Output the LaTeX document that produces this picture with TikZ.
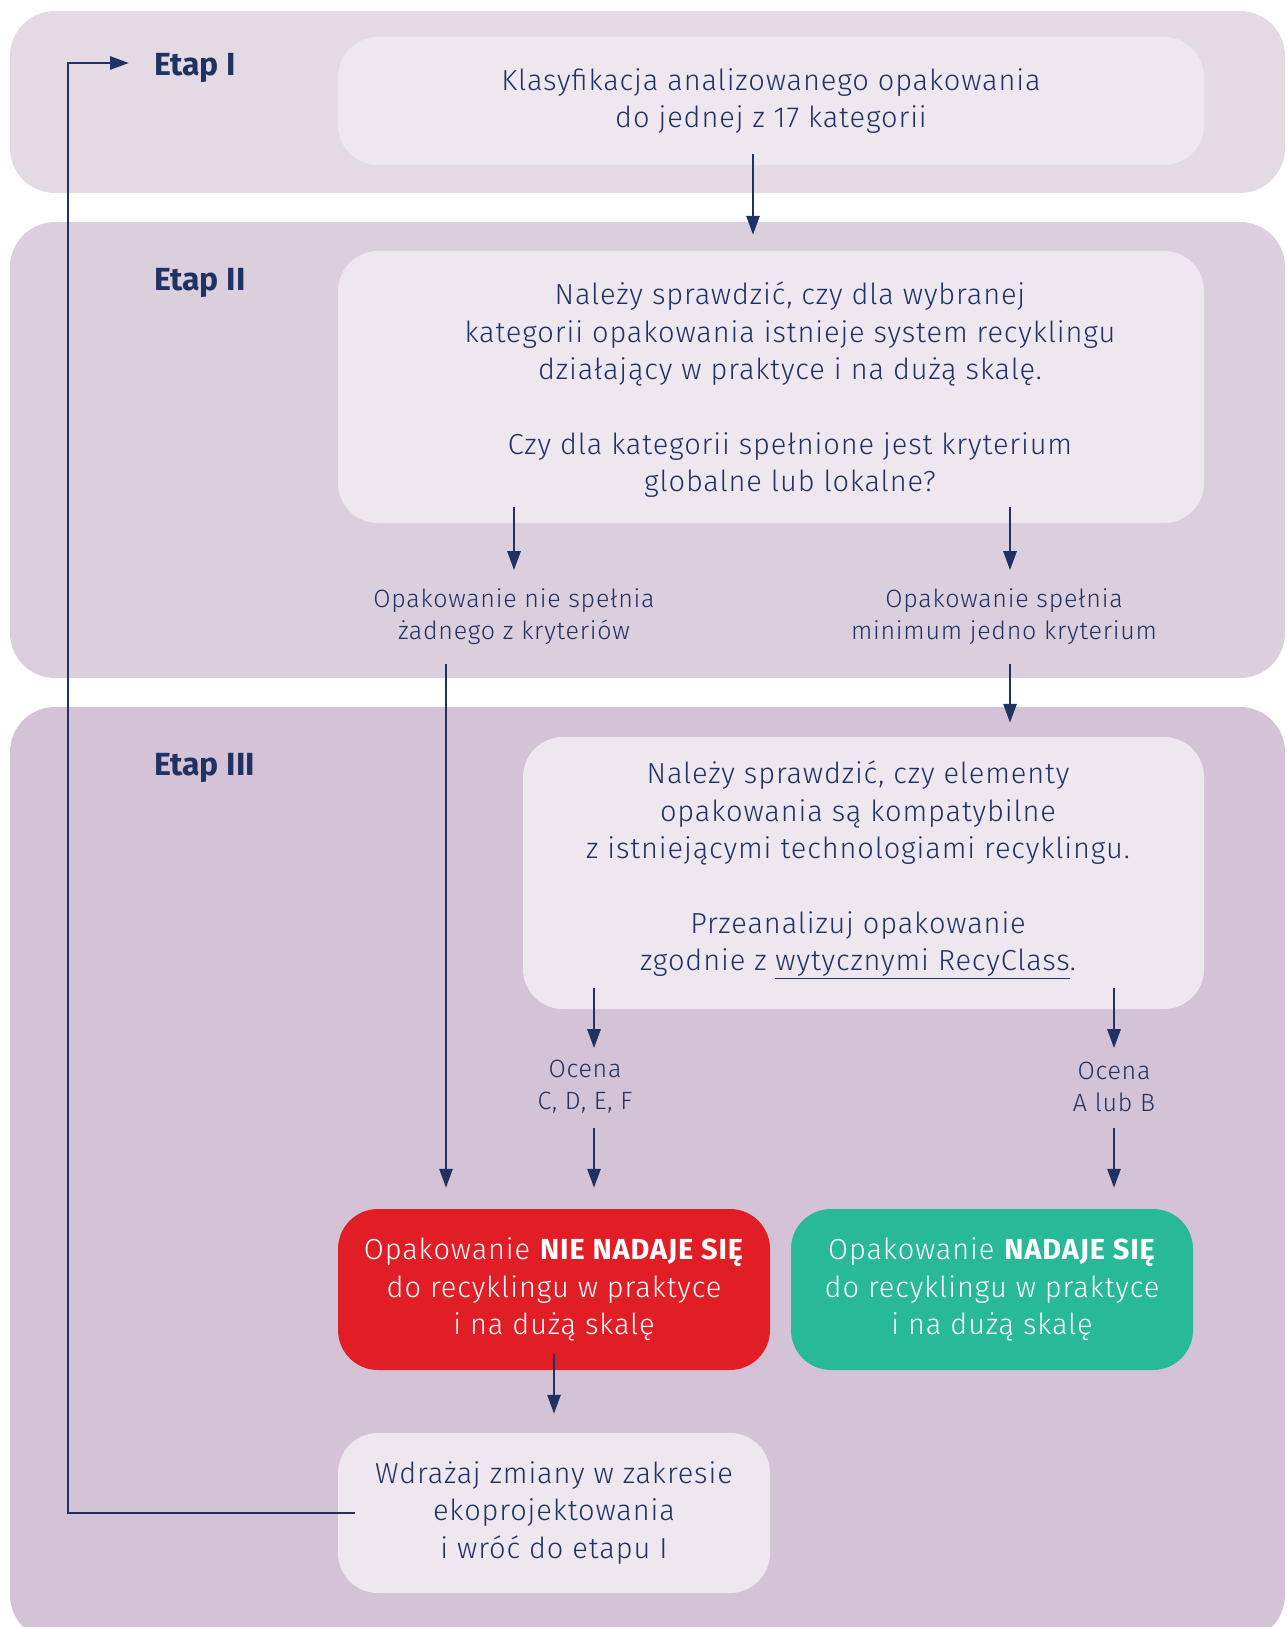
\documentclass[tikz,border=0pt]{standalone}
\usepackage{fontspec}
\setmainfont{Fira Sans Light}[BoldFont={Fira Sans Bold}, LetterSpace=3]
\newfontfamily\stagefont{Fira Sans Bold}
\usetikzlibrary{arrows.meta}
\definecolor{navy}{HTML}{1F3262}
\definecolor{bandA}{HTML}{E4DAE4}
\definecolor{bandB}{HTML}{DBCEDD}
\definecolor{bandC}{HTML}{D4C3D6}
\definecolor{boxc}{HTML}{EFE7EF}
\definecolor{redc}{HTML}{E11E26}
\definecolor{greenc}{HTML}{27B998}
\begin{document}
\begin{tikzpicture}[x=1pt,y=-1pt,
  bandshape/.style={rounded corners=45pt},
  box/.style={fill=boxc, rounded corners=40pt, align=center, text=navy,
    font=\fontsize{29}{37.4}\selectfont, inner sep=0pt},
  colbox/.style={rounded corners=40pt, align=center, text=white,
    font=\fontsize{29}{37.4}\selectfont, inner sep=0pt},
  lbl/.style={align=center, text=navy, font=\fontsize{25}{32}\selectfont, inner sep=0pt},
  stage/.style={anchor=west, text=navy, font=\fontsize{32}{36}\stagefont, inner sep=0pt},
  arr/.style={draw=navy, line width=2.8pt, -{Triangle[length=19pt,width=13pt]}},
  ln/.style={draw=navy, line width=2.8pt}
]
\useasboundingbox (0,0) rectangle (1287,1627);
% bands
\fill[bandA, bandshape] (10,11) rectangle (1285,193);
\fill[bandB, bandshape] (10,222) rectangle (1285,678);
\fill[bandC, bandshape] (10,707) rectangle (1285,1640);

% stage labels
\node[stage] (e1) at (154,68) {Etap I};
\node[stage] (e2) at (154,283) {Etap II};
\node[stage] (e3) at (154,768) {Etap III};

% boxes
\node[box, minimum width=866pt, minimum height=128pt] (b1) at (771,101)
  {Klasyfikacja analizowanego opakowania\\do jednej z 17 kategorii};
\node[box, minimum width=866pt, minimum height=272pt] (b2) at (771,387) {};
\node[box] (t2) at (790,390)
  {Należy sprawdzić, czy dla wybranej\\kategorii opakowania istnieje system recyklingu\\działający w praktyce i na dużą skalę.\\[37.4pt]Czy dla kategorii spełnione jest kryterium\\globalne lub lokalne?};
\node[box, minimum width=681pt, minimum height=272pt] (b3) at (863.5,873) {};
\node[box] (t3) at (858,870)
  {Należy sprawdzić, czy elementy\\opakowania są kompatybilne\\z istniejącymi technologiami recyklingu.\\[37.4pt]Przeanalizuj opakowanie\\zgodnie z \underline{wytycznymi RecyClass}.};
\node[colbox, fill=redc, minimum width=432pt, minimum height=161pt] (red) at (554,1289.5)
  {Opakowanie \textbf{NIE NADAJE SIĘ}\\do recyklingu w praktyce\\i na dużą skalę};
\node[colbox, fill=greenc, minimum width=402pt, minimum height=161pt] (green) at (992,1289.5)
  {Opakowanie \textbf{NADAJE SIĘ}\\do recyklingu w praktyce\\i na dużą skalę};
\node[box, minimum width=432pt, minimum height=160pt] (b6) at (554,1513)
  {Wdrażaj zmiany w zakresie\\ekoprojektowania\\i wróć do etapu I};

% labels
\node[lbl] (l1) at (514,617) {Opakowanie nie spełnia\\żadnego z kryteriów};
\node[lbl] (l2) at (1004,617) {Opakowanie spełnia\\minimum jedno kryterium};
\node[lbl] (o1) at (585,1087) {Ocena\\C, D, E, F};
\node[lbl] (o2) at (1114,1087) {Ocena\\A lub B};

% arrows
\draw[arr] ([xshift=-18pt,yshift=11pt]b1.south) -- ([xshift=-18pt,yshift=16pt]b2.north);
\draw[arr] ([xshift=-257pt,yshift=16pt]b2.south) -- ([xshift=-257pt,yshift=-47pt]b2.south);
\draw[arr] ([xshift=239pt,yshift=16pt]b2.south) -- ([xshift=239pt,yshift=-47pt]b2.south);
\draw[arr] ([xshift=-325pt,yshift=-141pt]b2.south) -- ([xshift=-108pt,yshift=21pt]red.north);
\draw[arr] ([xshift=239pt,yshift=-141pt]b2.south) -- ([xshift=146.5pt,yshift=14pt]b3.north);
\draw[arr] ([xshift=-269.5pt,yshift=21pt]b3.south) -- ([xshift=-269.5pt,yshift=-39pt]b3.south);
\draw[arr] ([xshift=250.5pt,yshift=21pt]b3.south) -- ([xshift=250.5pt,yshift=-39pt]b3.south);
\draw[arr] ([xshift=40pt,yshift=81pt]red.north) -- ([xshift=40pt,yshift=21pt]red.north);
\draw[arr] ([xshift=122pt,yshift=81pt]green.north) -- ([xshift=122pt,yshift=21pt]green.north);
\draw[arr] ([yshift=16pt]red.south) -- ([yshift=19pt]b6.north);
\draw[arr] ([xshift=17pt]b6.west) -| ([xshift=-86pt,yshift=5pt]e1.west) -- ([xshift=-25pt,yshift=5pt]e1.west);
\end{tikzpicture}
\end{document}
